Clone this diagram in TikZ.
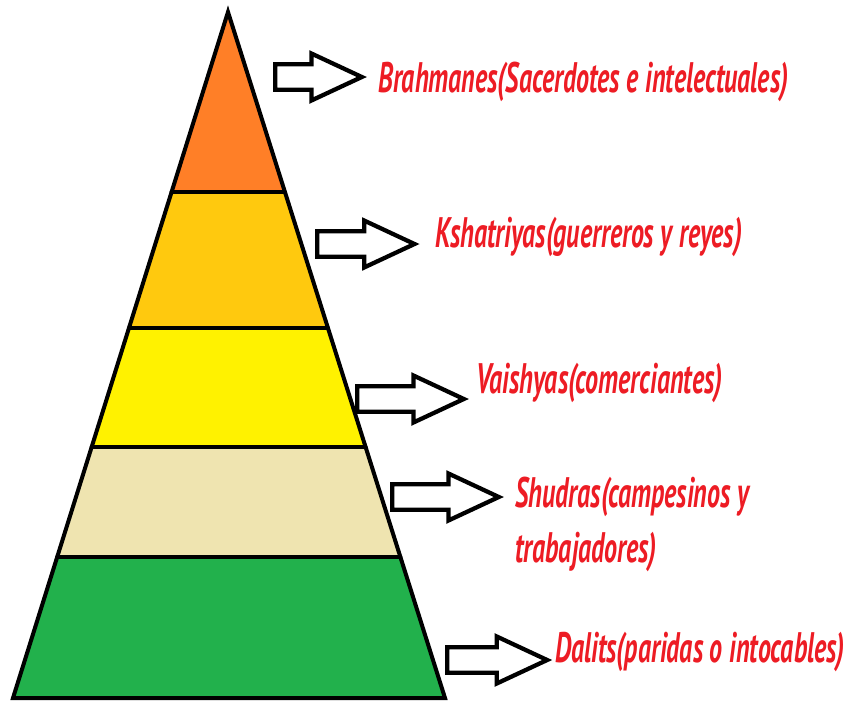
\documentclass[tikz,border=0pt]{standalone}
\usepackage{fontspec}
\setmainfont{PT Sans}
\usetikzlibrary{calc,shapes.arrows}

\definecolor{brahma}{HTML}{FF7F27}
\definecolor{kshat}{HTML}{FFC90E}
\definecolor{vaish}{HTML}{FFF200}
\definecolor{shud}{HTML}{EFE4B0}
\definecolor{dalit}{HTML}{22B14C}
\definecolor{castered}{HTML}{ED1C24}

\newcommand{\sqz}[1]{\scalebox{0.61}[1]{#1}}

\tikzset{casteline/.style={line width=3pt, line cap=round},
         castearrow/.style={single arrow, draw, fill=white, line width=3.2pt,
                            inner sep=0pt, inner ysep=8pt,
                            single arrow head extend=8pt,
                            single arrow tip angle=50, anchor=west},
         castelabel/.style={text=castered, anchor=base west, inner sep=0pt, align=left,
                            font=\fontsize{32}{41}\selectfont\bfseries\itshape}}

\begin{document}
\begin{tikzpicture}[x=0.75pt,y=-0.75pt]
    \useasboundingbox (0,0) rectangle (850,701);
    \coordinate (apex) at (228,12);
    \coordinate (bl) at (13,698);
    \coordinate (br) at (445,698);
    % band borders along the two sides
    \coordinate (l1) at ($(apex)!0.2624!(bl)$);
    \coordinate (r1) at ($(apex)!0.2624!(br)$);
    \coordinate (l2) at ($(apex)!0.4606!(bl)$);
    \coordinate (r2) at ($(apex)!0.4606!(br)$);
    \coordinate (l3) at ($(apex)!0.6341!(bl)$);
    \coordinate (r3) at ($(apex)!0.6341!(br)$);
    \coordinate (l4) at ($(apex)!0.7945!(bl)$);
    \coordinate (r4) at ($(apex)!0.7945!(br)$);

    \fill [brahma] (apex) -- (r1) -- (l1) -- cycle;
    \fill [kshat] (l1) -- (r1) -- (r2) -- (l2) -- cycle;
    \fill [vaish] (l2) -- (r2) -- (r3) -- (l3) -- cycle;
    \fill [shud] (l3) -- (r3) -- (r4) -- (l4) -- cycle;
    \fill [dalit] (l4) -- (r4) -- (br) -- (bl) -- cycle;

    \draw [casteline, line join=miter] (apex) -- (br) -- (bl) -- cycle;
    \draw [casteline] (l1) -- (r1);
    \draw [casteline] (l2) -- (r2);
    \draw [casteline] (l3) -- (r3);
    \draw [casteline] (l4) -- (r4);

    % arrows
    \node [castearrow, minimum height=65pt] (arBrahma) at (273,77) {};
    \node [castearrow, minimum height=73pt] (arKshat) at (315,244) {};
    \node [castearrow, minimum height=80pt] (arVaish) at (355,399) {};
    \node [castearrow, minimum height=80pt] (arShud) at (390,497) {};
    \node [castearrow, minimum height=75pt] (arDalit) at (445,660) {};

    % labels (two-line node sits on its last baseline)
    \node [castelabel] (txBrahma) at (378,92) {\sqz{Brahmanes(Sacerdotes e intelectuales)}};
    \node [castelabel] (txKshat) at (435,247) {\sqz{Kshatriyas(guerreros y reyes)}};
    \node [castelabel] (txVaish) at (476,393) {\sqz{Vaishyas(comerciantes)}};
    \node [castelabel] (txShud) at (515,562) {\sqz{Shudras(campesinos y}\\\sqz{trabajadores)}};
    \node [castelabel] (txDalit) at (555,662) {\sqz{Dalits(paridas o intocables)}};
\end{tikzpicture}
\end{document}
